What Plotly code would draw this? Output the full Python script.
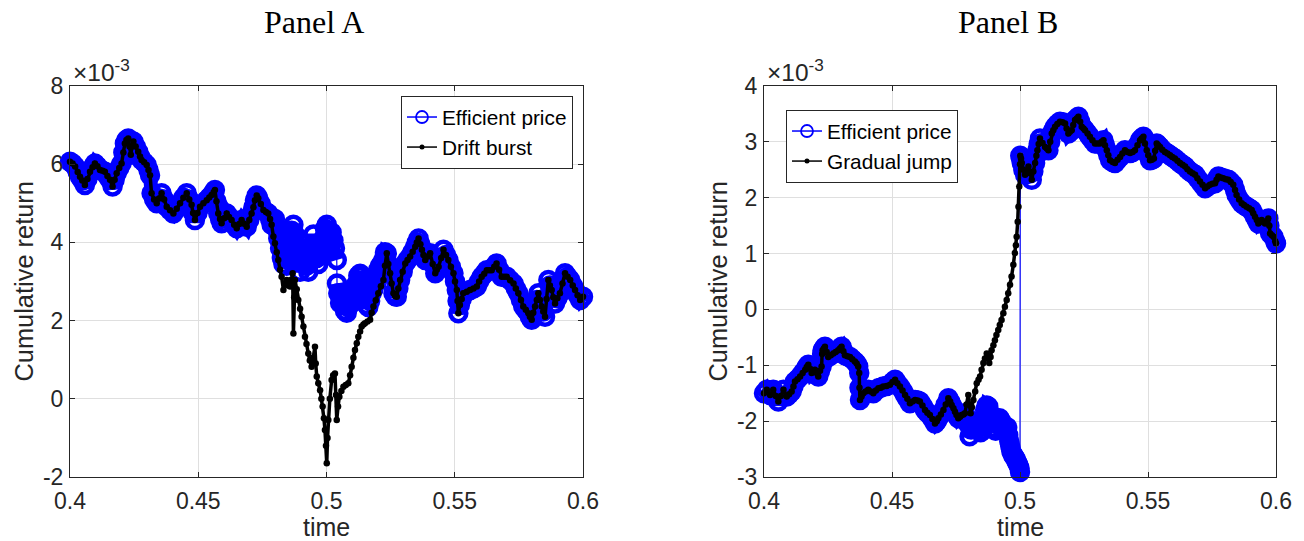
import plotly.graph_objects as go

W, H = 1304, 541

# ---------------- Panel A data (values in units of 1e-3) ----------------
A_common_start = [
    (0.4000, 6.06), (0.4010, 6.02), (0.4020, 5.94), (0.4030, 5.80), (0.4039, 5.68), (0.4048, 5.58),
    (0.4058, 5.47), (0.4068, 5.62), (0.4078, 5.81), (0.4088, 5.92), (0.4097, 6.02), (0.4107, 5.95),
    (0.4117, 5.85), (0.4127, 5.83), (0.4136, 5.81), (0.4146, 5.70), (0.4156, 5.60), (0.4166, 5.43),
    (0.4174, 5.60), (0.4182, 5.77), (0.4192, 5.90), (0.4201, 6.02), (0.4208, 6.30), (0.4214, 6.53),
    (0.4220, 6.62), (0.4227, 6.66), (0.4232, 6.45), (0.4237, 6.24), (0.4242, 6.45), (0.4247, 6.58),
    (0.4256, 6.45), (0.4266, 6.32), (0.4273, 6.20), (0.4279, 6.11), (0.4289, 6.05), (0.4299, 5.98),
    (0.4306, 5.85), (0.4312, 5.72), (0.4318, 5.26), (0.4328, 5.10), (0.4338, 5.00), (0.4347, 5.12),
    (0.4357, 5.26), (0.4367, 5.10), (0.4377, 4.91), (0.4390, 4.82), (0.4403, 4.74), (0.4416, 4.86),
    (0.4429, 5.00), (0.4442, 5.14), (0.4455, 5.26), (0.4465, 5.10), (0.4474, 4.96), (0.4480, 4.75),
    (0.4487, 4.57), (0.4497, 4.75), (0.4507, 4.91), (0.4520, 5.00), (0.4533, 5.08), (0.4543, 5.15),
    (0.4552, 5.21), (0.4560, 5.28), (0.4565, 5.34), (0.4571, 5.05), (0.4578, 4.74), (0.4585, 4.60),
    (0.4591, 4.49), (0.4601, 4.62), (0.4611, 4.74), (0.4620, 4.65), (0.4630, 4.57), (0.4640, 4.45),
    (0.4650, 4.36), (0.4660, 4.47), (0.4669, 4.57), (0.4679, 4.48), (0.4689, 4.40), (0.4699, 4.57),
    (0.4708, 4.74), (0.4715, 4.90), (0.4721, 5.08), (0.4728, 5.20), (0.4734, 5.13), (0.4744, 4.98),
    (0.4754, 4.83), (0.4764, 4.78), (0.4773, 4.74), (0.4780, 4.60), (0.4786, 4.45),
]

A_efficient_window = [
    (0.4793, 4.55), (0.4799, 4.60), (0.4805, 4.35), (0.4812, 4.10), (0.4819, 3.85), (0.4826, 3.60),
    (0.4832, 3.45), (0.4840, 3.70), (0.4845, 3.40), (0.4851, 3.55), (0.4858, 3.95), (0.4864, 4.30),
    (0.4871, 4.45), (0.4877, 4.20), (0.4884, 3.90), (0.4890, 3.50), (0.4897, 3.25), (0.4903, 3.55),
    (0.4910, 3.85), (0.4916, 3.70), (0.4922, 3.40), (0.4929, 3.25), (0.4935, 3.55), (0.4942, 3.90),
    (0.4949, 4.20), (0.4955, 3.95), (0.4962, 3.60), (0.4968, 3.45), (0.4975, 3.70), (0.4981, 3.90),
    (0.4988, 4.10), (0.4994, 4.35), (0.5001, 4.45), (0.5007, 4.30), (0.5014, 4.15), (0.5020, 4.25),
    (0.5027, 4.05), (0.5033, 3.85), (0.5040, 3.55), (0.5041, 2.95), (0.5046, 2.70), (0.5053, 2.45),
    (0.5059, 2.65), (0.5066, 2.40), (0.5072, 2.25), (0.5079, 2.20), (0.5085, 2.35), (0.5092, 2.55),
    (0.5098, 2.45), (0.5105, 2.60), (0.5111, 2.80), (0.5118, 2.95), (0.5124, 3.15), (0.5131, 3.20),
    (0.5137, 3.00), (0.5144, 2.75), (0.5150, 2.55), (0.5157, 2.40), (0.5163, 2.35), (0.5170, 2.50),
    (0.5176, 2.70), (0.5183, 2.80), (0.5189, 3.00), (0.5196, 3.20), (0.5202, 3.30), (0.5209, 3.40),
    (0.5215, 3.45), (0.5222, 3.55), (0.5228, 3.75),
]

A_burst_window = [
    (0.4793, 4.15), (0.4799, 3.98), (0.4806, 3.75), (0.4812, 3.55), (0.4819, 3.30), (0.4825, 3.12),
    (0.4832, 2.78), (0.4838, 2.95), (0.4845, 3.04), (0.4851, 2.90), (0.4858, 2.87), (0.4864, 3.05),
    (0.4868, 3.21), (0.4871, 1.67), (0.4874, 2.60), (0.4877, 3.04), (0.4884, 2.80), (0.4890, 2.53),
    (0.4897, 2.30), (0.4903, 2.10), (0.4910, 1.85), (0.4916, 1.59), (0.4922, 1.40), (0.4929, 1.16),
    (0.4935, 0.98), (0.4942, 0.82), (0.4948, 1.05), (0.4955, 1.33), (0.4958, 0.90), (0.4962, 0.57),
    (0.4968, 0.40), (0.4975, 0.22), (0.4980, 0.00), (0.4985, -0.20), (0.4990, -0.50), (0.4994, -0.80),
    (0.4998, -1.20), (0.5001, -1.65), (0.5004, -1.00), (0.5007, -0.54), (0.5013, 0.00), (0.5020, 0.48),
    (0.5026, 0.60), (0.5033, 0.65), (0.5037, 0.10), (0.5040, -0.54), (0.5045, -0.20), (0.5050, 0.05),
    (0.5058, 0.20), (0.5066, 0.31), (0.5075, 0.35), (0.5085, 0.40), (0.5092, 0.60), (0.5098, 0.82),
    (0.5105, 1.05), (0.5111, 1.25), (0.5118, 1.42), (0.5124, 1.59), (0.5131, 1.72), (0.5137, 1.85),
    (0.5144, 1.90), (0.5150, 1.93), (0.5160, 1.98), (0.5170, 2.02), (0.5176, 2.20), (0.5183, 2.36),
    (0.5192, 2.52), (0.5202, 2.70), (0.5212, 2.88), (0.5222, 3.04), (0.5228, 3.40),
]

A_common_end = [
    (0.5235, 3.72), (0.5241, 3.45), (0.5248, 3.21), (0.5254, 2.95), (0.5261, 2.70), (0.5268, 2.62),
    (0.5274, 2.61), (0.5280, 2.82), (0.5287, 3.04), (0.5297, 3.25), (0.5307, 3.46), (0.5316, 3.55),
    (0.5326, 3.64), (0.5336, 3.76), (0.5346, 3.89), (0.5352, 4.00), (0.5359, 4.10), (0.5366, 3.95),
    (0.5372, 3.81), (0.5378, 3.68), (0.5385, 3.55), (0.5395, 3.64), (0.5404, 3.72), (0.5414, 3.45),
    (0.5424, 3.21), (0.5430, 3.30), (0.5437, 3.38), (0.5447, 3.60), (0.5456, 3.81), (0.5466, 3.68),
    (0.5475, 3.55), (0.5485, 3.38), (0.5495, 3.21), (0.5501, 3.00), (0.5508, 2.78), (0.5511, 2.50),
    (0.5514, 2.19), (0.5520, 2.40), (0.5527, 2.55), (0.5533, 2.70), (0.5547, 2.74), (0.5560, 2.78),
    (0.5573, 2.82), (0.5586, 2.87), (0.5595, 3.00), (0.5605, 3.12), (0.5615, 3.20), (0.5625, 3.29),
    (0.5635, 3.29), (0.5644, 3.29), (0.5654, 3.38), (0.5663, 3.46), (0.5673, 3.30), (0.5683, 3.12),
    (0.5693, 3.12), (0.5703, 3.12), (0.5716, 3.03), (0.5729, 2.95), (0.5738, 2.82), (0.5748, 2.70),
    (0.5758, 2.53), (0.5767, 2.36), (0.5777, 2.28), (0.5787, 2.19), (0.5793, 2.10), (0.5800, 2.02),
    (0.5806, 2.20), (0.5813, 2.36), (0.5820, 2.53), (0.5826, 2.70), (0.5832, 2.53), (0.5839, 2.36),
    (0.5845, 2.23), (0.5852, 2.10), (0.5858, 2.55), (0.5865, 3.04), (0.5871, 2.90), (0.5878, 2.78),
    (0.5884, 2.60), (0.5891, 2.44), (0.5900, 2.57), (0.5910, 2.70), (0.5920, 2.95), (0.5930, 3.21),
    (0.5940, 3.12), (0.5950, 3.04), (0.5960, 2.90), (0.5969, 2.78), (0.5979, 2.65), (0.5989, 2.53),
    (0.6000, 2.61),
]

# ---------------- Panel B data (values in units of 1e-3) ----------------
B_common_start = [
    (0.4000, -1.50), (0.4011, -1.44), (0.4024, -1.53), (0.4036, -1.44), (0.4046, -1.55), (0.4056, -1.65),
    (0.4066, -1.55), (0.4076, -1.44), (0.4089, -1.56), (0.4098, -1.52), (0.4108, -1.47), (0.4115, -1.38),
    (0.4121, -1.29), (0.4131, -1.25), (0.4141, -1.20), (0.4151, -1.14), (0.4161, -1.08), (0.4167, -1.03),
    (0.4173, -0.99), (0.4180, -1.06), (0.4186, -1.14), (0.4193, -1.11), (0.4199, -1.08), (0.4206, -1.14),
    (0.4212, -1.20), (0.4219, -1.10), (0.4225, -1.02), (0.4227, -0.80), (0.4229, -0.73), (0.4234, -0.70),
    (0.4238, -0.67), (0.4245, -0.76), (0.4251, -0.85), (0.4261, -0.82), (0.4271, -0.79), (0.4280, -0.76),
    (0.4290, -0.73), (0.4297, -0.70), (0.4303, -0.67), (0.4310, -0.75), (0.4316, -0.82), (0.4326, -0.84),
    (0.4336, -0.85), (0.4345, -0.89), (0.4355, -0.93), (0.4362, -0.97), (0.4368, -1.02), (0.4372, -1.14),
    (0.4373, -1.40), (0.4375, -1.62), (0.4381, -1.56), (0.4388, -1.50), (0.4397, -1.47), (0.4407, -1.44),
    (0.4417, -1.47), (0.4427, -1.50), (0.4437, -1.45), (0.4447, -1.41), (0.4456, -1.40), (0.4466, -1.38),
    (0.4479, -1.37), (0.4492, -1.35), (0.4502, -1.30), (0.4512, -1.26), (0.4521, -1.32), (0.4531, -1.38),
    (0.4541, -1.45), (0.4551, -1.53), (0.4560, -1.60), (0.4570, -1.68), (0.4580, -1.65), (0.4590, -1.62),
    (0.4600, -1.63), (0.4609, -1.65), (0.4619, -1.72), (0.4629, -1.80), (0.4638, -1.85), (0.4648, -1.89),
    (0.4658, -1.96), (0.4668, -2.04), (0.4675, -2.00), (0.4681, -1.95), (0.4691, -1.88), (0.4701, -1.80),
    (0.4710, -1.70), (0.4720, -1.59), (0.4727, -1.65), (0.4733, -1.71), (0.4740, -1.77), (0.4746, -1.83),
    (0.4752, -1.89), (0.4759, -1.95), (0.4766, -1.92), (0.4772, -1.89), (0.4779, -1.88), (0.4785, -1.86),
]

B_efficient_window = [
    (0.4791, -1.95), (0.4797, -2.05), (0.4803, -2.27), (0.4809, -2.15), (0.4815, -2.02), (0.4821, -2.10),
    (0.4827, -2.05), (0.4833, -2.00), (0.4840, -2.12), (0.4846, -2.20), (0.4852, -2.17), (0.4858, -1.95),
    (0.4864, -1.80), (0.4870, -1.72), (0.4876, -1.74), (0.4882, -1.85), (0.4888, -1.93), (0.4893, -2.00),
    (0.4899, -2.12), (0.4905, -2.17), (0.4910, -2.05), (0.4915, -1.98), (0.4920, -1.95), (0.4925, -1.99),
    (0.4930, -2.05), (0.4935, -2.08), (0.4940, -2.10), (0.4945, -2.15), (0.4950, -2.11), (0.4954, -2.25),
    (0.4958, -2.36), (0.4962, -2.45), (0.4966, -2.54), (0.4970, -2.58), (0.4974, -2.62), (0.4978, -2.64),
    (0.4982, -2.67), (0.4986, -2.72), (0.4990, -2.75), (0.4994, -2.79), (0.4998, -2.84), (0.5000, -2.91),
]

B_gradual_window = [
    (0.4791, -1.70), (0.4798, -1.53), (0.4802, -1.70), (0.4807, -1.86), (0.4812, -1.75), (0.4818, -1.62),
    (0.4825, -1.47), (0.4831, -1.32), (0.4838, -1.26), (0.4844, -1.20), (0.4850, -1.08), (0.4857, -0.96),
    (0.4863, -0.88), (0.4870, -0.79), (0.4875, -0.88), (0.4880, -0.96), (0.4885, -0.85), (0.4889, -0.73),
    (0.4896, -0.64), (0.4902, -0.55), (0.4908, -0.46), (0.4915, -0.37), (0.4921, -0.28), (0.4928, -0.19),
    (0.4935, -0.07), (0.4941, 0.05), (0.4948, 0.17), (0.4954, 0.29), (0.4961, 0.44), (0.4967, 0.59),
    (0.4974, 0.80), (0.4980, 1.01), (0.4984, 1.15), (0.4987, 1.30), (0.4991, 1.57), (0.4994, 1.84),
    (0.4997, 2.20), (0.5000, 2.60),
]

B_common_end = [
    (0.5001, 2.75), (0.5004, 2.70), (0.5007, 2.62), (0.5013, 2.50), (0.5020, 2.41), (0.5026, 2.48),
    (0.5033, 2.56), (0.5040, 2.44), (0.5046, 2.32), (0.5052, 2.47), (0.5059, 2.62), (0.5064, 2.75),
    (0.5068, 2.85), (0.5073, 2.96), (0.5078, 3.06), (0.5088, 2.98), (0.5098, 2.91), (0.5105, 2.88),
    (0.5111, 2.85), (0.5118, 3.00), (0.5124, 3.15), (0.5130, 3.21), (0.5137, 3.27), (0.5146, 3.32),
    (0.5156, 3.36), (0.5166, 3.35), (0.5176, 3.33), (0.5182, 3.24), (0.5189, 3.15), (0.5195, 3.18),
    (0.5202, 3.21), (0.5208, 3.30), (0.5215, 3.39), (0.5222, 3.42), (0.5228, 3.45), (0.5235, 3.36),
    (0.5241, 3.27), (0.5248, 3.24), (0.5254, 3.21), (0.5264, 3.15), (0.5273, 3.09), (0.5283, 3.03),
    (0.5293, 2.97), (0.5302, 2.97), (0.5312, 2.97), (0.5319, 3.00), (0.5326, 3.03), (0.5332, 2.94),
    (0.5339, 2.85), (0.5345, 2.76), (0.5352, 2.67), (0.5362, 2.64), (0.5371, 2.62), (0.5381, 2.68),
    (0.5391, 2.73), (0.5400, 2.79), (0.5410, 2.85), (0.5420, 2.82), (0.5430, 2.80), (0.5440, 2.82),
    (0.5449, 2.85), (0.5459, 2.94), (0.5469, 3.03), (0.5475, 3.06), (0.5482, 3.09), (0.5488, 2.97),
    (0.5495, 2.85), (0.5501, 2.76), (0.5508, 2.67), (0.5515, 2.68), (0.5523, 2.70), (0.5528, 2.84),
    (0.5534, 2.97), (0.5540, 2.94), (0.5547, 2.91), (0.5556, 2.86), (0.5566, 2.82), (0.5576, 2.79),
    (0.5586, 2.76), (0.5595, 2.73), (0.5605, 2.70), (0.5615, 2.66), (0.5625, 2.62), (0.5635, 2.59),
    (0.5645, 2.56), (0.5654, 2.51), (0.5664, 2.47), (0.5674, 2.44), (0.5684, 2.41), (0.5693, 2.35),
    (0.5703, 2.29), (0.5713, 2.23), (0.5723, 2.17), (0.5732, 2.20), (0.5742, 2.23), (0.5752, 2.25),
    (0.5762, 2.26), (0.5768, 2.32), (0.5775, 2.38), (0.5784, 2.36), (0.5794, 2.35), (0.5804, 2.33),
    (0.5814, 2.32), (0.5823, 2.28), (0.5833, 2.23), (0.5840, 2.14), (0.5846, 2.05), (0.5856, 1.97),
    (0.5866, 1.90), (0.5875, 1.87), (0.5885, 1.84), (0.5895, 1.81), (0.5905, 1.78), (0.5911, 1.72),
    (0.5918, 1.66), (0.5925, 1.60), (0.5931, 1.54), (0.5938, 1.57), (0.5944, 1.60), (0.5951, 1.57),
    (0.5957, 1.54), (0.5964, 1.58), (0.5970, 1.63), (0.5974, 1.50), (0.5977, 1.36), (0.5984, 1.33),
    (0.5990, 1.30), (0.5997, 1.22), (0.6000, 1.18),
]

x_ticks = [0.4, 0.45, 0.5, 0.55, 0.6]
x_ticktext = ["0.4", "0.45", "0.5", "0.55", "0.6"]
A_yticks = [-2, 0, 2, 4, 6, 8]
A_yticktext = ["-2", "0", "2", "4", "6", "8"]
B_yticks = [-3, -2, -1, 0, 1, 2, 3, 4]
B_yticktext = ["-3", "-2", "-1", "0", "1", "2", "3", "4"]


def split(pairs):
    return [p[0] for p in pairs], [p[1] for p in pairs]


def with_gap(*segments):
    xs, ys = [], []
    for seg in segments:
        sx, sy = split(seg)
        xs += sx + [None]
        ys += sy + [None]
    return xs, ys


A_eff_t, A_eff_v = split(A_common_start + A_efficient_window + A_common_end)
A_db_t, A_db_v = split(A_common_start + A_burst_window + A_common_end)
B_eff_t, B_eff_v = split(B_common_start + B_efficient_window + B_common_end)
B_gj_t, B_gj_v = split(B_common_start + B_gradual_window + B_common_end)

# thick underlay of the efficient-price markers (the dense circle band), broken at jumps
A_band_t, A_band_v = with_gap(A_common_start + A_efficient_window[:39], A_efficient_window[39:] + A_common_end)
B_band_t, B_band_v = with_gap(B_common_start + B_efficient_window, B_common_end)


def px(x):
    return x / W


def py(y):
    return 1 - y / H


AX_COL = "#262626"
GRID_COL = "#dfdfdf"
SANS = "Liberation Sans, Arial, Helvetica, sans-serif"
SERIF = "Liberation Serif, Times New Roman, serif"
BLUE = "#0000ff"

fig = go.Figure()

eff_marker = dict(symbol="circle-open", size=16, color=BLUE, line=dict(width=4.5, color=BLUE))
blk_marker = dict(symbol="circle", size=6.5, color="black")


def add_panel(bt, bv, et, ev, kt, kv, kname, xa, ya, leg):
    fig.add_trace(go.Scatter(x=bt, y=bv, mode="lines", line=dict(color=BLUE, width=14),
                             xaxis=xa, yaxis=ya, showlegend=False, hoverinfo="skip",
                             cliponaxis=False))
    fig.add_trace(go.Scatter(x=et, y=ev, mode="lines+markers", name="Efficient price",
                             line=dict(color=BLUE, width=1.2), marker=eff_marker,
                             xaxis=xa, yaxis=ya, showlegend=False, cliponaxis=False))
    fig.add_trace(go.Scatter(x=kt, y=kv, mode="lines+markers", name=kname,
                             line=dict(color="black", width=3.5), marker=blk_marker,
                             xaxis=xa, yaxis=ya, showlegend=False, cliponaxis=False))
    # legend entries
    fig.add_trace(go.Scatter(x=[None], y=[None], mode="lines+markers", name="Efficient price",
                             line=dict(color=BLUE, width=1.5),
                             marker=dict(symbol="circle-open", size=12, color=BLUE,
                                         line=dict(width=1.8, color=BLUE)),
                             xaxis=xa, yaxis=ya, legend=leg))
    fig.add_trace(go.Scatter(x=[None], y=[None], mode="lines+markers", name=kname,
                             line=dict(color="black", width=1.5),
                             marker=dict(symbol="circle", size=5, color="black"),
                             xaxis=xa, yaxis=ya, legend=leg))


add_panel(A_band_t, A_band_v, A_eff_t, A_eff_v, A_db_t, A_db_v, "Drift burst", "x", "y", "legend")
add_panel(B_band_t, B_band_v, B_eff_t, B_eff_v, B_gj_t, B_gj_v, "Gradual jump", "x2", "y2", "legend2")

common_axis = dict(showline=True, linecolor=AX_COL, linewidth=1, mirror="ticks",
                   ticks="inside", ticklen=5, tickwidth=1, tickcolor=AX_COL,
                   showgrid=True, gridcolor=GRID_COL, gridwidth=1, zeroline=False,
                   automargin=False,
                   tickfont=dict(family=SANS, size=23, color=AX_COL))

y_dom = [py(477), py(86)]

fig.update_layout(
    width=W, height=H, margin=dict(l=0, r=0, t=0, b=0, autoexpand=False),
    paper_bgcolor="white", plot_bgcolor="white",
    xaxis=dict(domain=[px(70), px(583)], range=[0.4, 0.6], tickvals=x_ticks, ticktext=x_ticktext,
               anchor="y", ticklabelstandoff=3, **common_axis),
    yaxis=dict(domain=y_dom, range=[-2, 8], tickvals=A_yticks, ticktext=A_yticktext,
               anchor="x", ticklabelstandoff=1, **common_axis),
    xaxis2=dict(domain=[px(764), px(1276)], range=[0.4, 0.6], tickvals=x_ticks, ticktext=x_ticktext,
                anchor="y2", ticklabelstandoff=3, **common_axis),
    yaxis2=dict(domain=y_dom, range=[-3, 4], tickvals=B_yticks, ticktext=B_yticktext,
                anchor="x2", ticklabelstandoff=1, **common_axis),
    legend=dict(x=px(573), y=py(96), xanchor="right", yanchor="top",
                bgcolor="white", bordercolor=AX_COL, borderwidth=1,
                font=dict(family=SANS, size=20.8, color="black"), tracegroupgap=0),
    legend2=dict(x=px(786), y=py(110), xanchor="left", yanchor="top",
                 bgcolor="white", bordercolor=AX_COL, borderwidth=1,
                 font=dict(family=SANS, size=20.8, color="black"), tracegroupgap=0),
    showlegend=True,
)

ann = []
for cx, title in [(314, "Panel A"), (1008, "Panel B")]:
    ann.append(dict(text=title, x=px(cx), y=py(22.5), xref="paper", yref="paper",
                    xanchor="center", yanchor="middle", showarrow=False,
                    font=dict(family=SERIF, size=32, color="black")))
for lx in [71, 765]:
    ann.append(dict(text="×10<sup>-3</sup>", x=px(lx), y=py(88), xref="paper", yref="paper",
                    xanchor="left", yanchor="bottom", showarrow=False,
                    font=dict(family=SANS, size=24.5, color=AX_COL)))
for lx in [23, 717]:
    ann.append(dict(text="Cumulative return", x=px(lx), y=py(281.5), xref="paper", yref="paper",
                    xanchor="center", yanchor="middle", textangle=-90, showarrow=False,
                    font=dict(family=SANS, size=25.4, color=AX_COL)))
for lx in [326.5, 1020]:
    ann.append(dict(text="time", x=px(lx), y=py(527), xref="paper", yref="paper",
                    xanchor="center", yanchor="middle", showarrow=False,
                    font=dict(family=SANS, size=25, color=AX_COL)))
fig.update_layout(annotations=ann)

fig.write_html("out.html")
